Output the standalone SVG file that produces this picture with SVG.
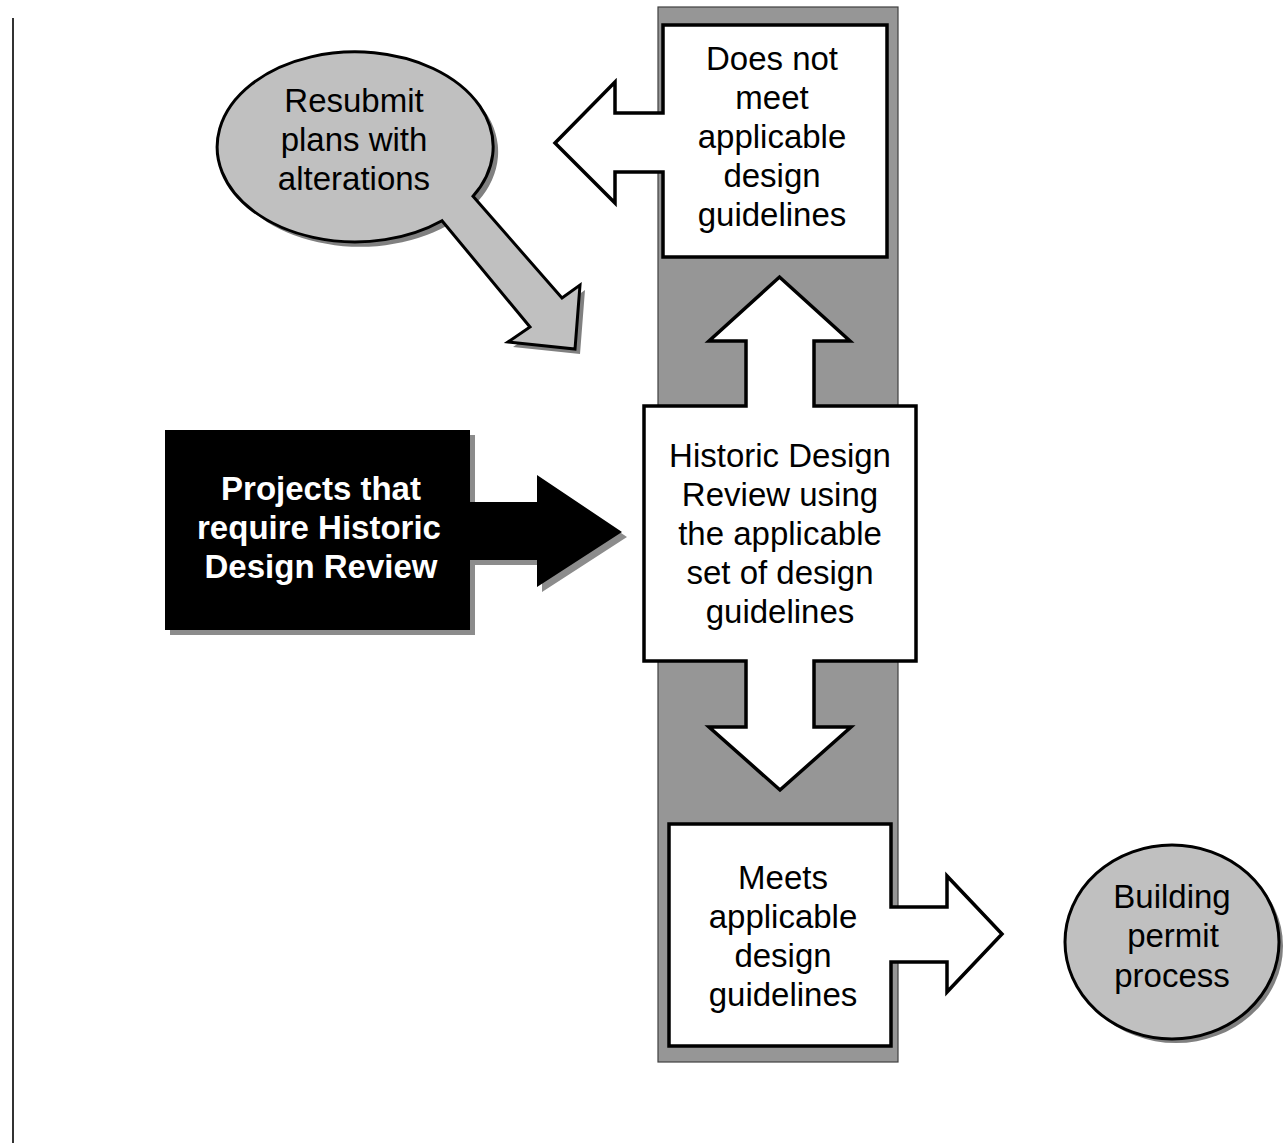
<svg xmlns="http://www.w3.org/2000/svg" width="1285" height="1143" viewBox="0 0 1285 1143">
<style>
text{font-family:"Liberation Sans",Arial,sans-serif;font-size:33px;text-anchor:middle;fill:#000}
.b{font-weight:bold;fill:#fff}
.wh{fill:#fff;stroke:#000;stroke-width:3.5;stroke-linejoin:miter}
.gr{fill:#c0c0c0;stroke:#000;stroke-width:3}
.sh{fill:#808080}
</style>
<rect width="1285" height="1143" fill="#fff"/>
<line x1="13" y1="18" x2="13" y2="1143" stroke="#333" stroke-width="2"/>
<rect id="column" x="658" y="7" width="240" height="1055" fill="#969696" stroke="#404040" stroke-width="1.2"/>
<g id="connectors"/>
<g id="resubmit">
<path class="sh" transform="translate(5,5)" d="M442,220.7 L530,327 L508,342 L575,349 L580,285 L562,298 L473,196.3 A138 95 0 1 0 442,220.7 Z"/>
<path class="gr" d="M442,220.7 L530,327 L508,342 L575,349 L580,285 L562,298 L473,196.3 A138 95 0 1 0 442,220.7 Z"/>
<text x="354" y="112">Resubmit</text>
<text x="354" y="151">plans with</text>
<text x="354" y="190">alterations</text>
</g>
<g id="doesnotmeet">
<path class="wh" d="M663,25 H887 V257 H663 V172 H615 V203 L555,143 L615,82 V113 H663 Z"/>
<text x="772" y="70">Does not</text>
<text x="772" y="109">meet</text>
<text x="772" y="148">applicable</text>
<text x="772" y="187">design</text>
<text x="772" y="226">guidelines</text>
</g>
<g id="projects">
<path fill="#8c8c8c" transform="translate(5,5)" d="M165,430 H470 V502 H537 V475 L622,532 L537,587 V560 H470 V630 H165 Z"/>
<path fill="#000" d="M165,430 H470 V502 H537 V475 L622,532 L537,587 V560 H470 V630 H165 Z"/>
<text class="b" x="321" y="500">Projects that</text>
<text class="b" x="319" y="539">require Historic</text>
<text class="b" x="321" y="578">Design Review</text>
</g>
<g id="review">
<path class="wh" d="M644,406 H746 V341 H709 L779.5,277 L850,341 H814 V406 H916 V661 H814 V727 H851 L780,790 L709,727 H746 V661 H644 Z"/>
<text x="780" y="467">Historic Design</text>
<text x="780" y="506">Review using</text>
<text x="780" y="545">the applicable</text>
<text x="780" y="584">set of design</text>
<text x="780" y="623">guidelines</text>
</g>
<g id="meets">
<path class="wh" d="M669,824 H891 V907 H947 V876 L1002,934 L947,992 V962 H891 V1046 H669 Z"/>
<text x="783" y="889">Meets</text>
<text x="783" y="928">applicable</text>
<text x="783" y="967">design</text>
<text x="783" y="1006">guidelines</text>
</g>
<g id="permit">
<ellipse class="sh" cx="1176" cy="946" rx="107" ry="97"/>
<ellipse class="gr" cx="1172" cy="942" rx="107" ry="97"/>
<text x="1172" y="908">Building</text>
<text x="1173" y="947">permit</text>
<text x="1172" y="987">process</text>
</g>
</svg>
